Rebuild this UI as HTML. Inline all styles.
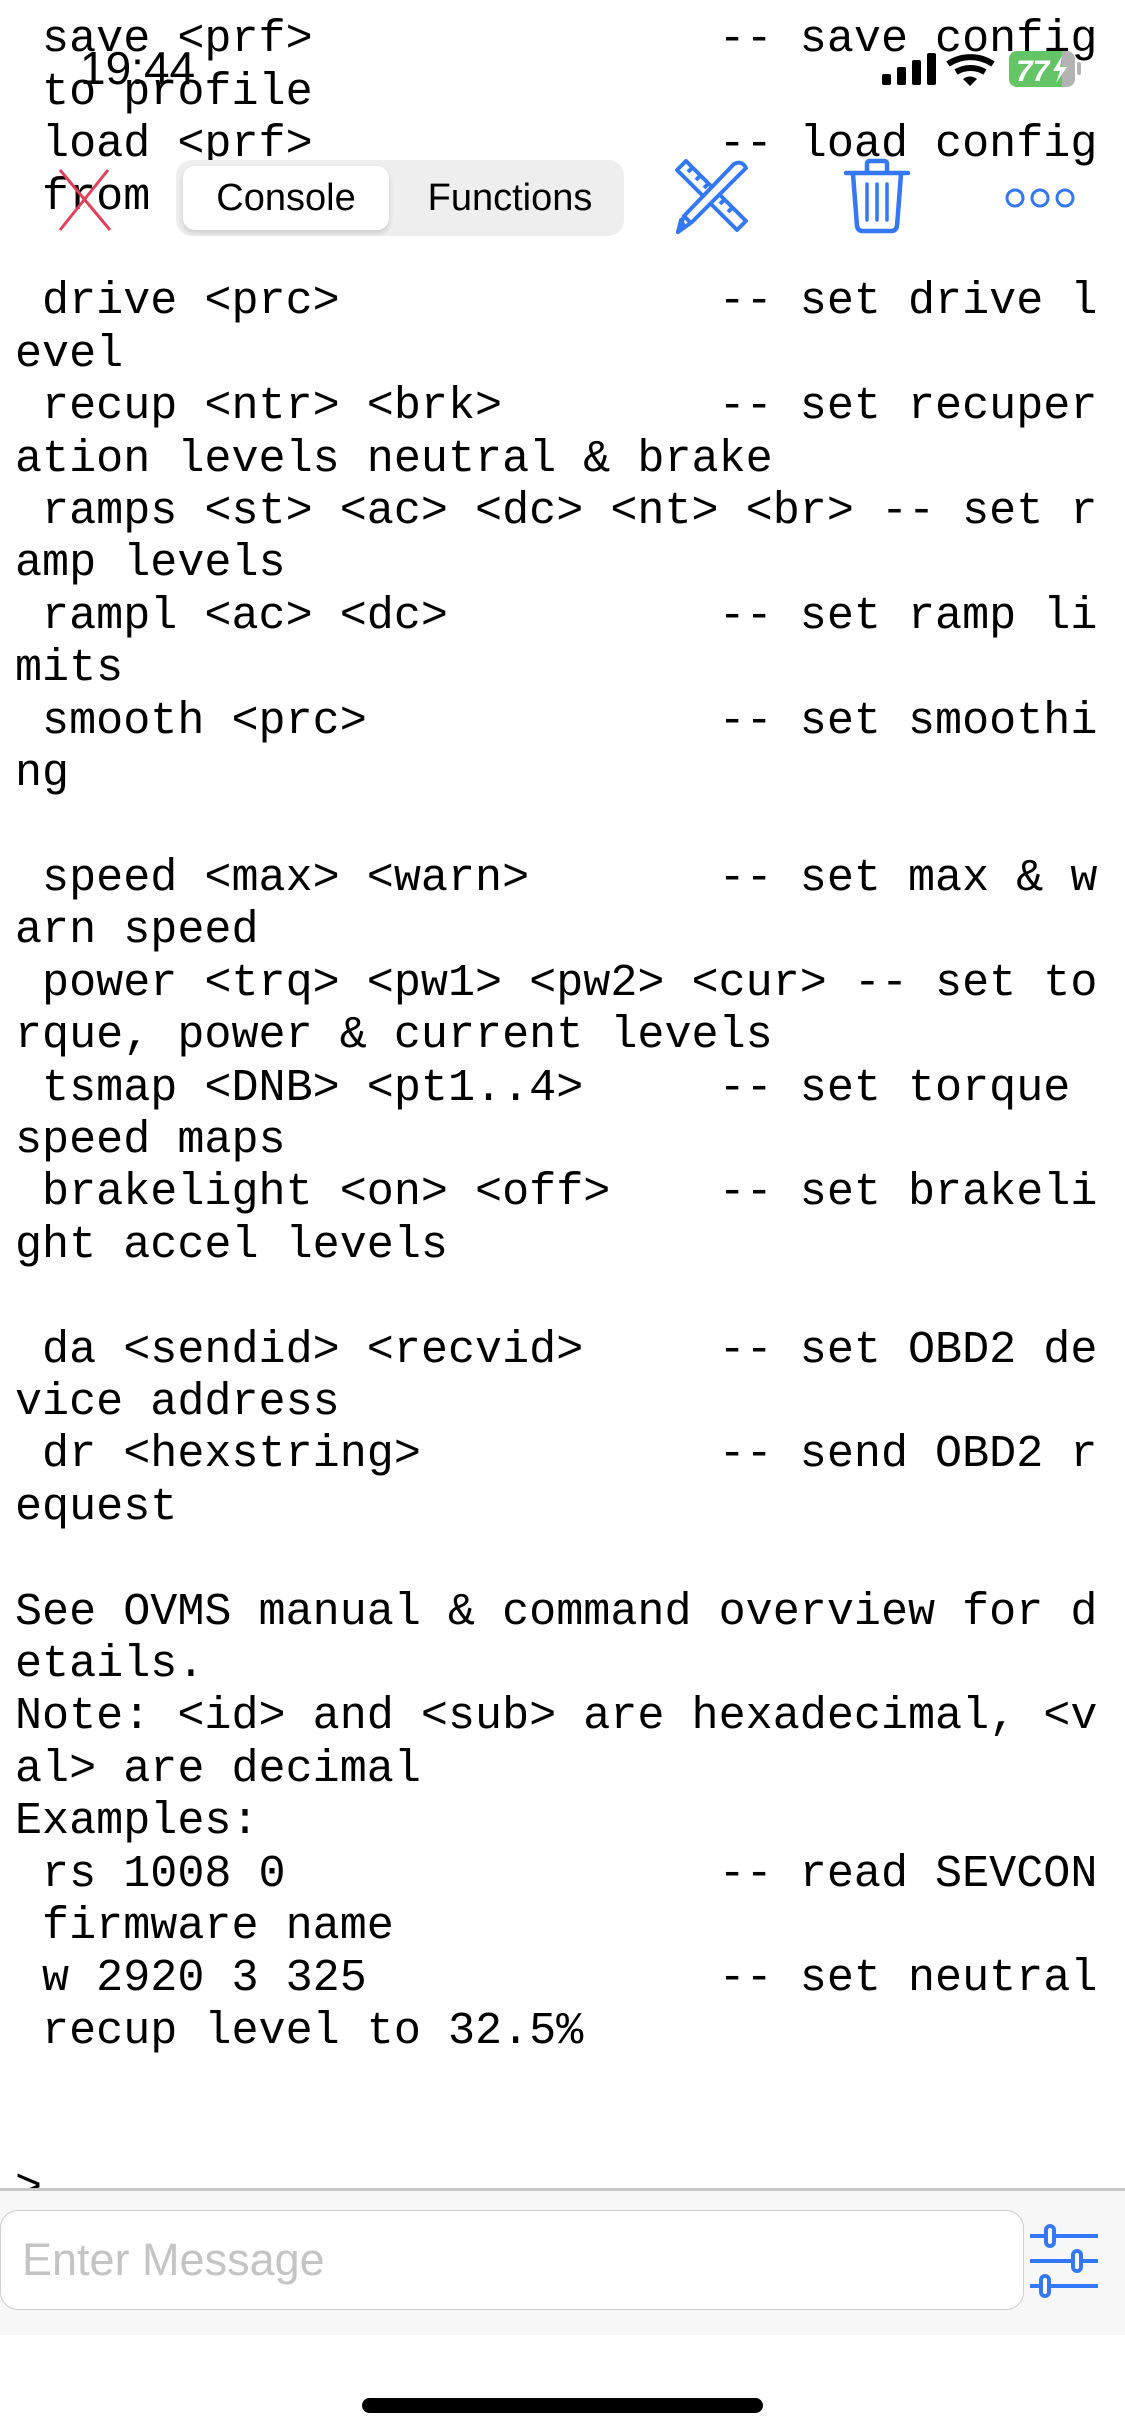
<!DOCTYPE html>
<html><head><meta charset="utf-8"><style>
html,body{margin:0;padding:0;width:1125px;height:2436px;overflow:hidden;background:#fff;position:relative}
pre{position:absolute;left:15px;top:-39px;margin:0;font-family:"Liberation Mono",monospace;font-size:45.1px;line-height:52.4px;color:#000;white-space:pre}
.abs{position:absolute}
</style></head><body>
<pre>write values
 save &lt;prf&gt;               -- save config
 to profile
 load &lt;prf&gt;               -- load config
 from

 drive &lt;prc&gt;              -- set drive l
evel
 recup &lt;ntr&gt; &lt;brk&gt;        -- set recuper
ation levels neutral &amp; brake
 ramps &lt;st&gt; &lt;ac&gt; &lt;dc&gt; &lt;nt&gt; &lt;br&gt; -- set r
amp levels
 rampl &lt;ac&gt; &lt;dc&gt;          -- set ramp li
mits
 smooth &lt;prc&gt;             -- set smoothi
ng

 speed &lt;max&gt; &lt;warn&gt;       -- set max &amp; w
arn speed
 power &lt;trq&gt; &lt;pw1&gt; &lt;pw2&gt; &lt;cur&gt; -- set to
rque, power &amp; current levels
 tsmap &lt;DNB&gt; &lt;pt1..4&gt;     -- set torque
speed maps
 brakelight &lt;on&gt; &lt;off&gt;    -- set brakeli
ght accel levels

 da &lt;sendid&gt; &lt;recvid&gt;     -- set OBD2 de
vice address
 dr &lt;hexstring&gt;           -- send OBD2 r
equest

See OVMS manual &amp; command overview for d
etails.
Note: &lt;id&gt; and &lt;sub&gt; are hexadecimal, &lt;v
al&gt; are decimal
Examples:
 rs 1008 0                -- read SEVCON
 firmware name
 w 2920 3 325             -- set neutral
 recup level to 32.5%


&gt;</pre>

<!-- status bar -->
<div class="abs" style="left:80px;top:40px;font-family:'Liberation Sans',sans-serif;font-size:46px;line-height:56px;color:#000">19:44</div>
<svg class="abs" style="left:880px;top:50px" width="210" height="40" viewBox="0 0 210 40">
<rect x="2" y="24" width="9" height="11" rx="2"/><rect x="17" y="17" width="9" height="18" rx="2"/><rect x="32" y="10" width="9" height="25" rx="2"/><rect x="47" y="3" width="9" height="32" rx="2"/>
<path d="M68 14 A40 40 0 0 1 113 14" stroke="#000" stroke-width="6" fill="none"/>
<path d="M76 22 A28 28 0 0 1 105 22" stroke="#000" stroke-width="6" fill="none"/>
<path d="M83 29 L90 36 L97 29 Q90 24 83 29Z"/>
<rect x="129" y="1" width="66" height="36" rx="8" fill="#b3b3b3"/>
<rect x="129" y="1" width="51" height="36" rx="8" fill="#65c466"/>
<rect x="172" y="1" width="10" height="36" fill="#65c466"/>
<rect x="197" y="12" width="4" height="13" rx="2" fill="#b3b3b3"/>
<text x="136" y="31" font-family="Liberation Sans" font-weight="bold" font-style="italic" font-size="30" fill="#fff">77</text>
<path d="M182 6 L173 21 L180 21 L176 33 L187 17 L180 17 Z" fill="#fff"/>
</svg>

<!-- red X -->
<svg class="abs" style="left:56px;top:168px" width="60" height="64"><path d="M4 2 L54 62 M52 2 L4 62" stroke="#e0405a" stroke-width="3"/></svg>

<!-- segmented -->
<div class="abs" style="left:176px;top:160px;width:448px;height:76px;background:#eeeeee;border-radius:16px"></div>
<div class="abs" style="left:183px;top:166px;width:206px;height:64px;background:#fff;border-radius:12px;box-shadow:0 3px 6px rgba(0,0,0,0.15)"></div>
<div class="abs" style="left:183px;top:166px;width:206px;height:64px;line-height:64px;text-align:center;font-family:'Liberation Sans',sans-serif;font-size:38px;color:#000">Console</div>
<div class="abs" style="left:400px;top:166px;width:220px;height:64px;line-height:64px;text-align:center;font-family:'Liberation Sans',sans-serif;font-size:38px;color:#000">Functions</div>

<!-- pencil/ruler -->
<svg class="abs" style="left:674px;top:158px" width="80" height="80" viewBox="0 0 80 80" fill="none" stroke="#3478f6" stroke-width="4" stroke-linejoin="round">
<path d="M3 12 L12 3 L72 63 L63 72 Z"/>
<path d="M14 14 l5 -5 M22 22 l5 -5 M30 30 l5 -5 M46 46 l5 -5 M54 54 l5 -5"/>
<path d="M60 6 Q68 2 72 10 L18 64 L4 74 L10 58 Z" fill="#fff"/>
<path d="M10 58 L18 66"/>
<path d="M4 74 L10 68 L7 62 Z" fill="#3478f6"/>
</svg>

<!-- trash -->
<svg class="abs" style="left:843px;top:158px" width="68" height="76" viewBox="0 0 68 76" fill="none" stroke="#3478f6" stroke-width="4.5" stroke-linecap="round">
<path d="M3 15 H65"/>
<path d="M24 14 V6 Q24 3 27 3 H41 Q44 3 44 6 V14"/>
<path d="M10 16 L14 68 Q15 73 20 73 H48 Q53 73 54 68 L58 16"/>
<path d="M24 26 V62 M34 26 V62 M44 26 V62" stroke-width="3.5"/>
</svg>

<!-- dots -->
<svg class="abs" style="left:1004px;top:186px" width="72" height="24" viewBox="0 0 72 24" fill="none" stroke="#3478f6" stroke-width="3">
<circle cx="11" cy="12" r="8"/><circle cx="36" cy="12" r="8"/><circle cx="61" cy="12" r="8"/>
</svg>

<!-- bottom -->
<div class="abs" style="left:0;top:2188px;width:1125px;height:3px;background:#c8c8c8"></div>
<div class="abs" style="left:0;top:2191px;width:1125px;height:144px;background:#f7f7f7"></div>
<div class="abs" style="left:0;top:2210px;width:1024px;height:100px;background:#fff;border:1.5px solid #cfcfcf;border-radius:18px;box-sizing:border-box"></div>
<div class="abs" style="left:22px;top:2233px;font-family:'Liberation Sans',sans-serif;font-size:45px;line-height:54px;color:#c4c4c4">Enter Message</div>
<svg class="abs" style="left:1028px;top:2220px" width="72" height="80" viewBox="0 0 72 80" stroke="#3478f6" stroke-width="4" fill="#fff">
<path d="M2 16 H70 M2 41 H70 M2 66 H70"/>
<rect x="18" y="6" width="8" height="20" rx="4"/>
<rect x="45" y="31" width="8" height="20" rx="4"/>
<rect x="13" y="56" width="8" height="20" rx="4"/>
</svg>
<div class="abs" style="left:362px;top:2398px;width:401px;height:15px;background:#000;border-radius:8px"></div>
</body></html>
